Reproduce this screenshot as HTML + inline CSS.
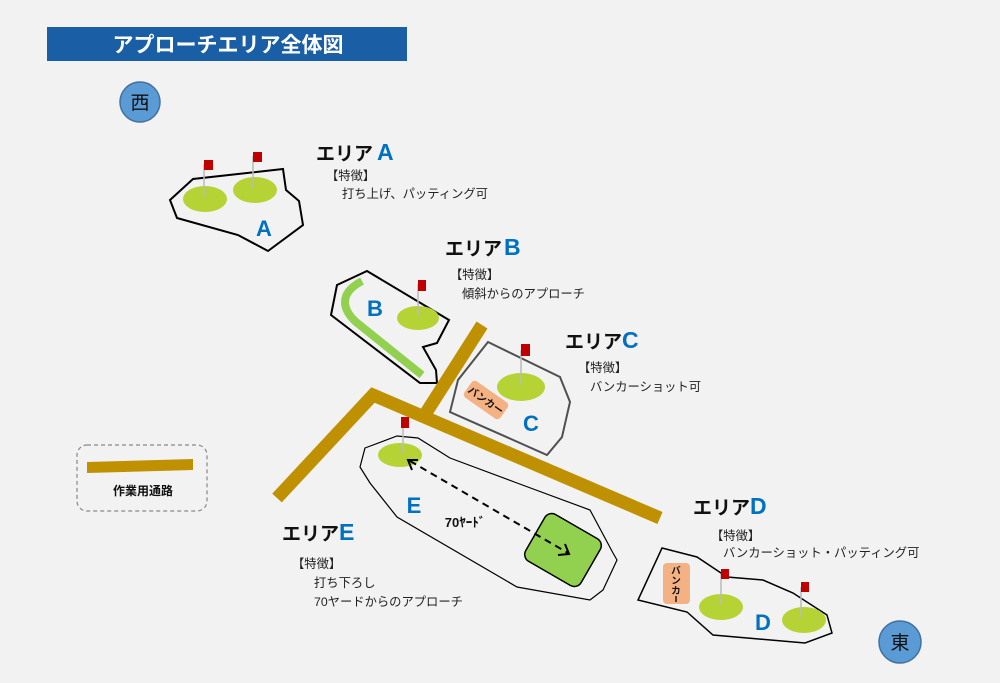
<!DOCTYPE html>
<html><head><meta charset="utf-8"><style>
html,body{margin:0;padding:0;background:#f2f2f2;}
svg{display:block;}
text{font-family:"Liberation Sans","Noto Sans CJK JP",sans-serif;}
.h{font-size:19px;font-weight:bold;fill:#111;}
.hl{fill:#0070c0;font-size:23px;font-weight:bold;}
.t{font-size:12.3px;fill:#222;}
.big{font-size:22px;font-weight:bold;fill:#0070c0;}
</style></head><body>
<svg width="1000" height="683" viewBox="0 0 1000 683" xmlns="http://www.w3.org/2000/svg">
<rect width="1000" height="683" fill="#f2f2f2"/>
<rect x="47" y="27" width="360" height="34" fill="#1a5fa6"/>
<text x="228" y="52" text-anchor="middle" style="font-size:21px;font-weight:bold;fill:#fff">アプローチエリア全体図</text>

<circle cx="140" cy="102" r="20" fill="#5b9bd5" stroke="#41719c" stroke-width="1.5"/>
<text x="140" y="109" text-anchor="middle" style="font-size:19px;fill:#111">西</text>
<circle cx="900" cy="642" r="21" fill="#5b9bd5" stroke="#41719c" stroke-width="1.5"/>
<text x="900" y="649" text-anchor="middle" style="font-size:19px;fill:#111">東</text>

<!-- Area A -->
<polygon points="170,200 193,179 283,169 286,190 299,201 303,225 268,251 238,235 177,218" fill="#f2f2f2" stroke="#000" stroke-width="2"/>
<ellipse cx="205" cy="199" rx="22" ry="13" fill="#b5d334"/>
<ellipse cx="255" cy="190" rx="22" ry="13" fill="#b5d334"/>
<line x1="204" y1="164" x2="204" y2="197" stroke="#bbb" stroke-width="1.5"/>
<rect x="204" y="160" width="9" height="10" fill="#c00000"/>
<line x1="253" y1="156" x2="253" y2="188" stroke="#bbb" stroke-width="1.5"/>
<rect x="253" y="152" width="9" height="10" fill="#c00000"/>
<text x="264" y="236" text-anchor="middle" class="big">A</text>

<!-- Area B -->
<polygon points="337,285 367,271 449,320 437,343 423,347 436,370 437,383 420,383 331,315" fill="#f2f2f2" stroke="#000" stroke-width="2"/>
<path d="M362,281 Q345,290 345,302 Q345,312 356,322 L422,375" fill="none" stroke="#92d050" stroke-width="8"/>
<ellipse cx="418" cy="318" rx="21" ry="12" fill="#b5d334"/>
<line x1="418" y1="284" x2="418" y2="316" stroke="#bbb" stroke-width="1.5"/>
<rect x="418" y="280" width="8" height="11" fill="#c00000"/>
<text x="375" y="316" text-anchor="middle" class="big">B</text>

<!-- Road -->
<polyline points="277,498 373,395 660,518" fill="none" stroke="#bf9000" stroke-width="13"/>
<line x1="482" y1="325" x2="424" y2="416" stroke="#bf9000" stroke-width="13"/>

<!-- Area C -->
<polygon points="488,342 560,377 570,402 562,437 547,455 450,412 458,380" fill="none" stroke="#505050" stroke-width="2"/>
<ellipse cx="521" cy="387" rx="24" ry="14" fill="#b5d334"/>
<line x1="521" y1="350" x2="521" y2="385" stroke="#bbb" stroke-width="1.5"/>
<rect x="521" y="344" width="9" height="12" fill="#c00000"/>
<g transform="translate(486,400) rotate(35)">
<rect x="-22" y="-10" width="44" height="20" rx="4" fill="#f4b183"/>
<text x="0" y="4" text-anchor="middle" style="font-size:10px;font-weight:bold;fill:#111">バンカー</text>
</g>
<text x="531" y="431" text-anchor="middle" class="big">C</text>

<!-- Area E -->
<polygon points="365,448 397,436 418,438 450,458 517,483 590,510 613,553 617,560 603,590 590,600 517,587 397,517 370,483 360,467" fill="none" stroke="#000" stroke-width="1.2"/>
<ellipse cx="400" cy="455" rx="22" ry="12" fill="#b5d334"/>
<line x1="403" y1="424" x2="403" y2="453" stroke="#bbb" stroke-width="1.5"/>
<rect x="401" y="417" width="8" height="11" fill="#c00000"/>
<g transform="translate(563,550) rotate(30)">
<rect x="-32" y="-27" width="64" height="54" rx="8" fill="#92d050" stroke="#000" stroke-width="1.5"/>
</g>
<line x1="410" y1="461" x2="568" y2="553" stroke="#000" stroke-width="2" stroke-dasharray="7,5"/>
<polyline points="412,470 408,460 418,460" fill="none" stroke="#000" stroke-width="2"/>
<polyline points="558,555 569,554 565,544" fill="none" stroke="#000" stroke-width="2"/>
<text x="465" y="527" text-anchor="middle" style="font-size:13px;font-weight:bold;fill:#111">70ﾔｰﾄﾞ</text>
<text x="414" y="513" text-anchor="middle" class="big">E</text>

<!-- Area D -->
<polygon points="662,548 697,557 727,577 763,580 793,593 827,615 832,633 805,643 713,635 687,612 638,600" fill="none" stroke="#000" stroke-width="1.5"/>
<rect x="663" y="563" width="27" height="41" rx="4" fill="#f4b183"/>
<text text-anchor="middle" style="font-size:9.5px;font-weight:bold;fill:#111"><tspan x="676" y="574">バ</tspan><tspan x="676" y="584">ン</tspan><tspan x="676" y="594">カ</tspan></text>
<line x1="676" y1="596" x2="676" y2="602" stroke="#111" stroke-width="1.4"/>
<ellipse cx="721" cy="607" rx="22" ry="13" fill="#b5d334"/>
<ellipse cx="804" cy="620" rx="22" ry="13" fill="#b5d334"/>
<line x1="721" y1="574" x2="721" y2="605" stroke="#bbb" stroke-width="1.5"/>
<rect x="721" y="569" width="8" height="10" fill="#c00000"/>
<line x1="801" y1="587" x2="801" y2="618" stroke="#bbb" stroke-width="1.5"/>
<rect x="801" y="582" width="8" height="10" fill="#c00000"/>
<text x="763" y="630" text-anchor="middle" class="big">D</text>

<!-- Legend -->
<rect x="77" y="445" width="130" height="66" rx="10" fill="none" stroke="#888" stroke-width="1.2" stroke-dasharray="4,3"/>
<polygon points="87,462 193,459 193,470 87,473" fill="#bf9000"/>
<text x="143" y="495" text-anchor="middle" style="font-size:12px;font-weight:bold;fill:#111">作業用通路</text>

<!-- Labels -->
<text x="316" y="160" class="h">エリア<tspan class="hl" dx="4">A</tspan></text>
<text x="326" y="180" class="t">【特徴】</text>
<text x="342" y="198" class="t">打ち上げ、パッティング可</text>

<text x="445" y="255" class="h">エリア<tspan class="hl" dx="2">B</tspan></text>
<text x="450" y="279" class="t">【特徴】</text>
<text x="462" y="298" class="t">傾斜からのアプローチ</text>

<text x="565" y="348" class="h">エリア<tspan class="hl">C</tspan></text>
<text x="578" y="372" class="t">【特徴】</text>
<text x="590" y="391" class="t">バンカーショット可</text>

<text x="693" y="514" class="h">エリア<tspan class="hl">D</tspan></text>
<text x="711" y="540" class="t">【特徴】</text>
<text x="723" y="557" class="t">バンカーショット・パッティング可</text>

<text x="282" y="540" class="h">エリア<tspan class="hl">E</tspan></text>
<text x="292" y="568" class="t">【特徴】</text>
<text x="314" y="587" class="t">打ち下ろし</text>
<text x="314" y="606" class="t">70ヤードからのアプローチ</text>
</svg>
</body></html>
